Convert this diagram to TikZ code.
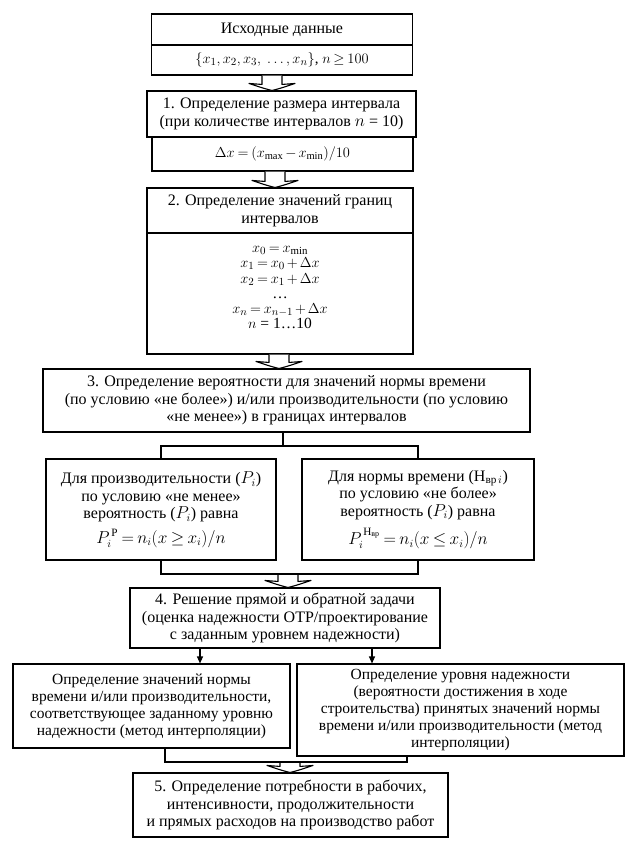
\documentclass[tikz,border=0pt]{standalone}
\usepackage{amsmath}
\usepackage{fontspec}
\setmainfont{Liberation Serif}
\usetikzlibrary{calc,arrows.meta}
\tikzset{
  box/.style={draw, line width=1.1pt, fill=white, align=center, inner sep=0pt,
    font=\fontsize{16}{17.5}\selectfont},
  blockarrow/.style={draw, line width=1.1pt, fill=white, line join=round},
  conn/.style={draw, line width=1.1pt},
  thinarrow/.style={draw, line width=1.1pt, -{Triangle[length=7pt,width=6pt]}}
}
\newcommand\blkarr[2]{%
  \draw[blockarrow] ($(#1)+(-10,0)$) -- ($(#2)+(-10,-6)$) -- ($(#2)+(-23,-7)$)
    .. controls ($(#2)+(-8,-2)$) .. (#2) .. controls ($(#2)+(8,-2)$) .. ($(#2)+(23,-7)$)
    -- ($(#2)+(10,-6)$) -- ($(#1)+(10,0)$);}
\begin{document}
\thickmuskip=3.5mu plus 1mu
\medmuskip=2.5mu plus 1mu
\begin{tikzpicture}[x=1pt,y=-1pt]
\useasboundingbox (0,0) rectangle (637,849);
% box 0
\node[box, minimum width=261, minimum height=31] (b0a) at (282,29.5) {Исходные данные};
\node[box, minimum width=261, minimum height=30, font=\fontsize{15}{17}\selectfont] (b0b) at (282,60) {$\{x_1, x_2, x_3,\ \ldots, x_n\}$, $n \geq 100$};
% box 1
\node[box, minimum width=269, minimum height=46] (b1a) at (281.5,114) {1. Определение размера интервала\\(при количестве интервалов $n$ = 10)};
\node[box, minimum width=261, minimum height=34, font=\fontsize{15}{17}\selectfont] (b1b) at (282.5,154) {$\Delta x = (x_{\max} - x_{\min})/10$};
% box 2
\node[box, minimum width=266, minimum height=121, font=\fontsize{15.5}{15.2}\selectfont] (b2b) at (280,293.5) {$x_0 = x_{\min}$\\$x_1 = x_0 + \Delta x$\\$x_2 = x_1 + \Delta x$\\…\\$x_n = x_{n-1} + \Delta x$\\$n$ = 1…10\rule[-12pt]{0pt}{0pt}};
\node[box, minimum width=266, minimum height=45] (b2a) at (280,210.5) {2. Определение значений границ\\интервалов};
% box 3
\node[box, minimum width=487, minimum height=63] (b3) at (286.5,400.5) {3. Определение вероятности для значений нормы времени\\(по условию «не более») и/или производительности (по условию\\«не менее») в границах интервалов};
% middle boxes
\node[box, minimum width=230, minimum height=101] (bml) at (161,509.5) {Для производительности ($P_i$)\\по условию «не менее»\\вероятность ($P_i$) равна\\[7pt]$P_i^{\,\text{Р}} = n_i(x \geq x_i)/n$};
\node[box, minimum width=232, minimum height=101] (bmr) at (418,509.5) {Для нормы времени (Н$_{\text{вр}\,i}$)\\по условию «не более»\\вероятность ($P_i$) равна\\[7pt]$P_i^{\,\text{Н}_{\text{вр}}} = n_i(x \leq x_i)/n$};
% box 4
\node[box, minimum width=310, minimum height=60] (b4) at (285,618) {4. Решение прямой и обратной задачи\\(оценка надежности ОТР/проектирование\\с заданным уровнем надежности)};
% bottom boxes
\node[box, minimum width=277, minimum height=84, font=\fontsize{15.5}{17}\selectfont] (bbl) at (151.5,706) {Определение значений нормы\\времени и/или производительности,\\соответствующее заданному уровню\\надежности (метод интерполяции)};
\node[box, minimum width=327, minimum height=92, font=\fontsize{15.5}{17}\selectfont] (bbr) at (460.5,710) {Определение уровня надежности\\(вероятности достижения в ходе\\строительства) принятых значений нормы\\времени и/или производительности (метод\\интерполяции)};
% box 5
\node[box, minimum width=315, minimum height=64] (b5) at (290.5,805) {5. Определение потребности в рабочих,\\интенсивности, продолжительности\\и прямых расходов на производство работ};
% helper coordinates
\coordinate (ax1) at (272,0);
\coordinate (ax2) at (275,0);
\coordinate (ax3) at (279,0);
\coordinate (ax4) at (288,0);
\coordinate (ax5) at (290,0);
\coordinate (cb) at (283,446);
\coordinate (mg) at (288,574);
\coordinate (c4l) at (200,0);
\coordinate (c4r) at (372,0);
\coordinate (mgl) at (165,762);
\coordinate (mgr) at (407,762);
% block arrows
\blkarr{ax1 |- b0b.south}{ax1 |- b1a.north}
\blkarr{ax2 |- b1b.south}{ax2 |- b2a.north}
\blkarr{ax3 |- b2b.south}{ax3 |- b3.north}
\blkarr{ax4 |- mg}{ax4 |- b4.north}
\blkarr{ax5 |- mgl}{ax5 |- b5.north}
% branch from box 3
\draw[conn] (cb |- b3.south) -- (cb);
\draw[conn] (bml.north) -- (bml.north |- cb) -- (bmr.north |- cb) -- (bmr.north);
% merge of middle boxes
\draw[conn] (bml.south) -- (bml.south |- mg) -- (bmr.south |- mg) -- (bmr.south);
% arrows from box 4
\draw[thinarrow] (c4l |- b4.south) -- (c4l |- bbl.north);
\draw[thinarrow] (c4r |- b4.south) -- (c4r |- bbr.north);
% merge of bottom boxes
\draw[conn] (mgl |- bbl.south) -- (mgl) -- (mgr) -- (mgr |- bbr.south);
\end{tikzpicture}
\end{document}
